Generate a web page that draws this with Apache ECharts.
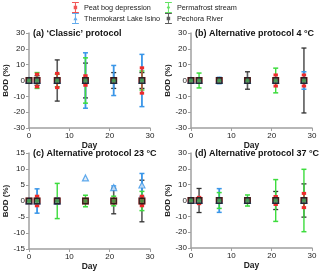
<!DOCTYPE html>
<html><head><meta charset="utf-8">
<script src="https://cdn.jsdelivr.net/npm/echarts@6/dist/echarts.min.js"></script>
<style>html,body{margin:0;padding:0;background:#fff}#c{width:320px;height:273px}</style>
</head><body><div id="c"></div>
<script>
const days = [0, 2, 7, 14, 21, 28];
const siteNames = ['Peat bog depression', 'Thermokarst Lake Isino', 'Permafrost stream', 'Pechora River'];
const xTicks = [0, 10, 20, 30];
const panelTitles = ["(a) \u2018Classic\u2019 protocol", '(b) Alternative protocol 4 \u00B0C', '(c) Alternative protocol 23 \u00B0C', '(d) Alternative protocol 37 \u00B0C'];
// panel a
const aPeat = [0, 0, 0, 0, 0, 0];        const aPeatErr = [0, 4, 4.5, 3, 1, 8];
const aThermo = [0, 0, 0, 0, 0, 0];      const aThermoErr = [0, 0, 0, 17.5, 9.5, 16.5];
const aPerma = [0, 0, 0, 0, 0, 0];       const aPermaErr = [0, 5, 4, 14.3, 0, 6];
const aPech = [0, 0, 0, 0, 0, 0];        const aPechErr = [0, 3, 13, 11, 5, 5];
// panel b
const bPeat = [0, 0, 0, 0, 0, 0];        const bPeatErr = [0, 1, 1, 1, 3.5, 3.5];
const bThermo = [0, 0, 0, 0, 0, 0];      const bThermoErr = [0, 0, 2, 0, 0, 5.5];
const bPerma = [0, 0, 0, 0, 0, 0];       const bPermaErr = [0, 4.7, 0, 0, 7.8, 1.5];
const bPech = [0, 0, 0, 0, 0, 0];        const bPechErr = [0, 0, 0, 5.5, 0, 20.5];
// panel c
const cPeat = [0, 0, 0, 0, 0, 0];        const cPeatErr = [0, 1.5, 0, 0, 0, 1.5];
const cThermo = [0, 0, 0, 7.2, 4.2, 5];  const cThermoErr = [0, 3.8, 1, 0, 0.5, 3.6];
const cPerma = [0, 0, 0, 0, 0, 0];       const cPermaErr = [0, 0, 5.5, 1.8, 1.5, 3];
const cPech = [0, 0, 0, 0, 0, 0];        const cPechErr = [0, 0, 0, 0, 4, 6.5];
// panel d
const dPeat = [0, 0, 0, 0, 0, 0];        const dPeatErr = [0, 2, 0, 0, 2.5, 4.5];
const dThermo = [0, 0, 0, 0, 0, 0];      const dThermoErr = [0, 0, 7.5, 0, 0, 0];
const dPerma = [0, 0, 0, 0, 0, 0];       const dPermaErr = [0, 0, 5, 3.5, 13.2, 19.7];
const dPech = [0, 0, 0, 0, 0, 0];        const dPechErr = [0, 7.6, 0, 0, 5.7, 10.5];

const panels = [
  {peat:[aPeat,aPeatErr], thermo:[aThermo,aThermoErr], perma:[aPerma,aPermaErr], pech:[aPech,aPechErr], ymin:-30, ymax:30, step:10},
  {peat:[bPeat,bPeatErr], thermo:[bThermo,bThermoErr], perma:[bPerma,bPermaErr], pech:[bPech,bPechErr], ymin:-30, ymax:30, step:10},
  {peat:[cPeat,cPeatErr], thermo:[cThermo,cThermoErr], perma:[cPerma,cPermaErr], pech:[cPech,cPechErr], ymin:-15, ymax:15, step:5},
  {peat:[dPeat,dPeatErr], thermo:[dThermo,dThermoErr], perma:[dPerma,dPermaErr], pech:[dPech,dPechErr], ymin:-30, ymax:30, step:10}
];
const gridPos = [
  {left:29, top:33, width:121, height:95},
  {left:191, top:33, width:121, height:95},
  {left:29, top:153, width:121, height:96},
  {left:191, top:153, width:121, height:95}
];
const FONT = 'Liberation Sans, Arial, sans-serif';
const colors = {peat:'#ee2a2a', thermo:'#3a96e8', perma:'#3ddc3d', pech:'#5a5a5a'};
const capColors = {peat:'#ee2a2a', thermo:'#3a96e8', perma:'#3ddc3d', pech:'#303030'};

function errSeries(idx, key, arr, lw, capW, capLW) {
  const data = days.map((d, i) => [d, arr[0][i], arr[1][i]]).filter(p => p[2] > 0);
  return {
    type:'custom', xAxisIndex:idx, yAxisIndex:idx, silent:true, z:2,
    data: data,
    renderItem: function(params, api) {
      const x = api.value(0), y = api.value(1), e = api.value(2);
      const top = api.coord([x, y + e]), bot = api.coord([x, y - e]);
      return {type:'group', children:[
        {type:'line', shape:{x1:top[0], y1:top[1], x2:bot[0], y2:bot[1]}, style:{stroke:colors[key], lineWidth:lw}},
        {type:'line', shape:{x1:top[0]-capW, y1:top[1], x2:top[0]+capW, y2:top[1]}, style:{stroke:capColors[key], lineWidth:capLW}},
        {type:'line', shape:{x1:bot[0]-capW, y1:bot[1], x2:bot[0]+capW, y2:bot[1]}, style:{stroke:capColors[key], lineWidth:capLW}}
      ]};
    }
  };
}
const iconRect = 'path://M0,0H10V1.5H0Z M4.3,0H5.7V16H4.3Z M0,14.5H10V16H0Z M2.5,5.5H7.5V10.5H2.5Z';
const iconTri = 'path://M0,0H10V1.5H0Z M4.3,0H5.7V16H4.3Z M0,14.5H10V16H0Z M5,5L8,10.5H2Z';
const iconDia = 'path://M0,0H10V1.5H0Z M4.3,0H5.7V16H4.3Z M0,14.5H10V16H0Z M5,5L7.5,8L5,11L2.5,8Z';
const grids = [], xAxes = [], yAxes = [], series = [], graphics = [];
panels.forEach((p, i) => {
  grids.push(gridPos[i]);
  xAxes.push({type:'value', gridIndex:i, min:0, max:30, interval:10,
    name:'Day', nameLocation:'middle', nameGap:11,
    nameTextStyle:{fontFamily:FONT, fontSize:8.5, fontWeight:'bold', color:'#222'},
    axisLine:{onZero:false, lineStyle:{color:'#a0a0a0', width:1.5}},
    axisTick:{show:true, length:3, lineStyle:{color:'#a0a0a0'}},
    axisLabel:{fontFamily:FONT, fontSize:8, color:'#222', margin:4},
    splitLine:{show:false}});
  yAxes.push({type:'value', gridIndex:i, min:p.ymin, max:p.ymax, interval:p.step,
    name:'BOD (%)', nameLocation:'middle', nameGap:17,
    nameTextStyle:{fontFamily:FONT, fontSize:8, fontWeight:'bold', color:'#222'},
    axisLine:{show:true, onZero:false, lineStyle:{color:'#a0a0a0', width:1.5}},
    axisTick:{show:true, length:3, lineStyle:{color:'#a0a0a0'}},
    axisLabel:{fontFamily:FONT, fontSize:8, color:'#222', margin:4},
    splitLine:{show:false}});
  series.push(errSeries(i, 'pech', p.pech, 1.6, 2.5, 1.3));
  series.push(errSeries(i, 'thermo', p.thermo, 1.8, 2.5, 1.5));
  series.push(errSeries(i, 'perma', p.perma, 1.4, 2.5, 1.5));
  series.push(errSeries(i, 'peat', p.peat, 1.2, 2.2, 3));
  const mk = (key, name, sym, size, style, z) => ({
    type:'scatter', name:name, xAxisIndex:i, yAxisIndex:i, symbol:sym, symbolSize:size, z:z,
    itemStyle:style, data: days.map((d, j) => [d, p[key][0][j]]), silent:true
  });
  series.push(mk('peat', siteNames[0], 'rect', 7, {color:colors.peat}, 3));
  series.push(mk('thermo', siteNames[1], 'triangle', 6, {color:'#dde8f5', borderColor:colors.thermo, borderWidth:1.2}, 4));
  series.push(mk('perma', siteNames[2], 'diamond', 5, {color:colors.perma}, 5));
  series.push(mk('pech', siteNames[3], 'rect', 5.5, {color:'rgba(60,90,70,0.6)', borderColor:'#111', borderWidth:1.3}, 6));
  graphics.push({type:'text', left:gridPos[i].left + 4, top:gridPos[i].top - 4,
    style:{text:panelTitles[i], font:'bold 9px ' + FONT, fill:'#111'}});
});
const legendBase = {orient:'vertical', itemGap:0, itemWidth:7, itemHeight:11, itemTextGap:5,
  textStyle:{fontFamily:FONT, fontSize:7.3, color:'#222'}, padding:0, selectedMode:false};
const chart = echarts.init(document.getElementById('c'), null, {renderer:'canvas'});
chart.setOption({
  animation:false,
  legend:[
    Object.assign({}, legendBase, {left:72, top:2, data:[
      {name:siteNames[0], icon:iconRect, itemStyle:{color:colors.peat, borderWidth:0}},
      {name:siteNames[1], icon:iconTri, itemStyle:{color:colors.thermo, borderWidth:0}}]}),
    Object.assign({}, legendBase, {left:165, top:2, data:[
      {name:siteNames[2], icon:iconDia, itemStyle:{color:colors.perma, borderWidth:0}},
      {name:siteNames[3], icon:iconRect, itemStyle:{color:'#333', borderWidth:0}}]})
  ],
  grid:grids, xAxis:xAxes, yAxis:yAxes, series:series, graphic:graphics
});
</script></body></html>
